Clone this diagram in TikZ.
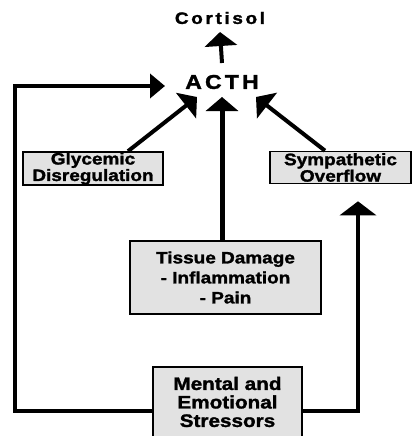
\documentclass[tikz,border=0pt]{standalone}
\usepackage{fontspec}
\setmainfont{Liberation Sans}
\newfontfamily\heavyfont[FakeBold=1.6,FakeStretch=1.15]{Liberation Sans Bold}
\usetikzlibrary{arrows.meta}
\definecolor{boxgray}{RGB}{226,226,226}

\begin{document}
\begin{tikzpicture}[x=1pt,y=-1pt,
    factorbox/.style={draw=black,line width=1.6pt,fill=boxgray,align=center,inner sep=0pt,
      font=\heavyfont\fontsize{16.5}{16.5}\selectfont},
    bigarrow/.style={line width=4pt,-{Triangle[width=32pt,length=14pt]}}]
  \useasboundingbox (0,0) rectangle (413,436);
  \node (cortisol) at (220,18) {\heavyfont\fontsize{16.5}{18}\selectfont\addfontfeatures{LetterSpace=16}Cortisol};
  \node (acth) at (222,82) {\heavyfont\fontsize{20}{22}\selectfont\addfontfeatures{LetterSpace=16}ACTH};
  \node[factorbox,minimum width=140pt,minimum height=33pt] (glyc) at (93,168.5) {Glycemic\\Disregulation};
  \node[factorbox,minimum width=141pt,minimum height=32pt] (symp) at (340.5,167.5) {Sympathetic\\Overflow};
  \node[factorbox,minimum width=191pt,minimum height=73pt,
    font=\heavyfont\fontsize{16.5}{20}\selectfont] (tissue) at (225.5,277.5) {Tissue Damage\\- Inflammation\\- Pain};
  \node[factorbox,minimum width=149pt,minimum height=70pt,
    font=\heavyfont\fontsize{18}{18.5}\selectfont] (mental) at (227.5,402) {Mental and\\Emotional\\Stressors};
  \coordinate (leftturn) at (15,86);
  \draw[bigarrow] ([yshift=19pt]acth.center) -- ([yshift=-14pt]cortisol.center);
  \draw[bigarrow] ([xshift=35pt]glyc.north) -- ([shift={(-25pt,-15pt)}]acth.center);
  \draw[bigarrow,line width=5pt] (tissue.north -| acth.center) -- ([yshift=-15pt]acth.center);
  \draw[bigarrow] ([xshift=-15.5pt]symp.north) -- ([shift={(34pt,-15pt)}]acth.center);
  \draw[bigarrow,-{Triangle[width=36pt,length=14pt]}] ([yshift=-9pt]mental.east) -| ([shift={(17.5pt,-17pt)}]symp.south);
  \draw[bigarrow,-{Triangle[width=24pt,length=15pt]}] ([yshift=-9pt]mental.west) -| (leftturn)
    -- ([shift={(-57pt,-4pt)}]acth.center);
\end{tikzpicture}
\end{document}
